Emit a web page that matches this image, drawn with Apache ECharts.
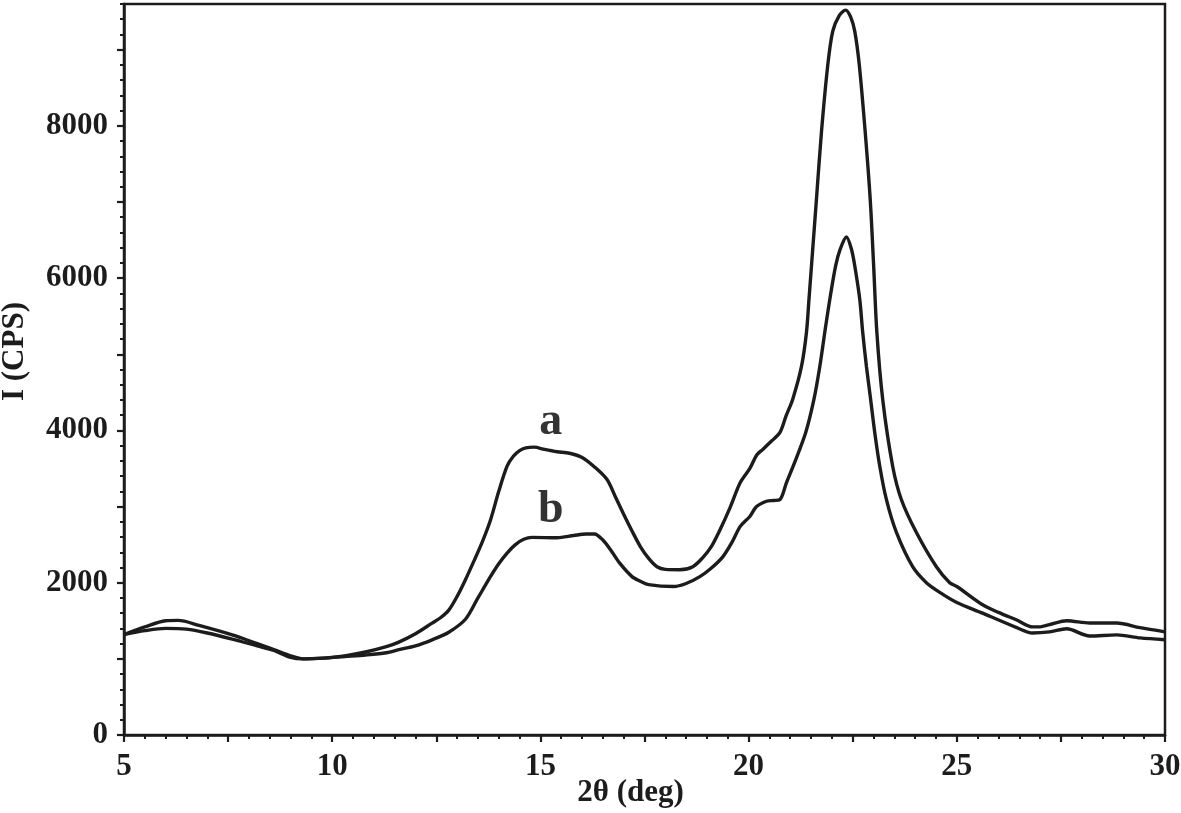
<!DOCTYPE html>
<html>
<head>
<meta charset="utf-8">
<script src="https://cdn.jsdelivr.net/npm/echarts@6/dist/echarts.min.js"></script>
<style>
html,body{margin:0;padding:0;background:#fff;}
#chart{width:1181px;height:813px;}
</style>
</head>
<body>
<div id="chart"></div>
<script>
// 2θ positions (deg) and intensities (CPS)
const xA = [5.0,5.5,6.0,6.3,6.8,7.6,8.2,8.6,9.0,9.3,9.8,10.3,10.8,11.3,11.6,12.0,12.4,12.6,12.8,13.0,13.2,13.4,13.6,13.8,14.0,14.2,14.35,14.5,14.65,14.85,15.1,15.4,15.7,16.0,16.3,16.6,16.8,17.0,17.2,17.4,17.6,17.8,18.0,18.35,18.66,18.9,19.1,19.3,19.55,19.8,20.03,20.2,20.34,20.55,20.75,20.9,21.06,21.27,21.39,21.45,21.51,21.57,21.63,21.75,21.9,22.02,22.18,22.33,22.45,22.55,22.66,22.8,22.92,23.0,23.08,23.22,23.46,23.67,24.03,24.51,24.83,25.0,25.62,26.0,26.44,26.82,27.0,27.23,27.64,28.19,28.84,29.4,30.0];
const yA = [1320,1420,1500,1505,1440,1315,1200,1120,1040,1000,1010,1040,1090,1160,1220,1330,1470,1540,1640,1820,2040,2280,2530,2820,3200,3530,3660,3735,3770,3780,3750,3720,3700,3645,3520,3355,3130,2900,2680,2475,2320,2210,2175,2170,2210,2330,2470,2680,2980,3315,3500,3680,3750,3860,3970,4190,4410,4840,5290,5720,6160,6600,7040,7920,8790,9240,9450,9520,9430,9240,8790,7920,7040,6200,5290,4410,3530,3090,2660,2210,2000,1950,1710,1610,1510,1420,1420,1450,1500,1470,1470,1410,1355];
const xB = [5.0,5.5,6.0,6.5,7.0,7.6,8.2,8.6,9.0,9.3,9.8,10.3,10.8,11.3,11.6,12.0,12.4,12.8,13.2,13.5,13.8,14.0,14.2,14.4,14.6,14.8,15.4,15.8,16.1,16.3,16.5,16.7,16.9,17.2,17.4,17.6,18.2,18.5,18.83,19.1,19.38,19.6,19.8,20.03,20.19,20.43,20.6,20.75,20.91,21.07,21.37,21.57,21.71,21.83,21.95,22.09,22.2,22.35,22.47,22.55,22.67,22.74,22.83,22.93,23.03,23.15,23.31,23.55,23.94,24.27,24.6,25.0,25.62,26.44,26.82,27.23,27.64,28.19,28.84,29.4,30.0];
const yB = [1320,1370,1400,1390,1340,1260,1170,1110,1020,1000,1010,1030,1050,1080,1120,1170,1250,1350,1520,1800,2080,2250,2390,2500,2570,2595,2590,2620,2640,2640,2560,2420,2260,2080,2020,1975,1950,1990,2080,2190,2340,2530,2740,2870,3000,3070,3080,3090,3315,3530,3970,4410,4840,5290,5720,6160,6380,6540,6380,6160,5720,5290,4840,4410,3970,3530,3090,2660,2210,2000,1870,1740,1600,1410,1340,1355,1395,1300,1315,1275,1250];
// curve annotations
const annotText = ['a','b'];
const annotX = [15.25,15.25];
const annotY = [4110,2950];
// axis ticks
const xLabelTicks = [5,10,15,20,25,30];
const xMidTicks = [5,7.5,10,12.5,15,17.5,20,22.5,25,27.5,30];
const yLabelTicks = [0,2000,4000,6000,8000];
const yMidTicks = [0,1000,2000,3000,4000,5000,6000,7000,8000,9000];

const font = '"Liberation Serif","Times New Roman",serif';
const ink = '#1c1c1c';
const pairs = (xs, ys) => xs.map((x,i)=>[x, ys[i]]);

const chart = echarts.init(document.getElementById('chart'), null, {renderer:'canvas'});
const labelStyle = {fontFamily:font, fontWeight:'bold', fontSize:31, color:ink};

chart.setOption({
  animation:false,
  backgroundColor:'#fff',
  grid:{left:124,right:16,top:4,bottom:78,containLabel:false,outerBoundsMode:'none',
        show:true,borderColor:ink,borderWidth:2.5,backgroundColor:'transparent'},
  xAxis:[
    {type:'value',min:5,max:30,interval:0.5,position:'bottom',
     axisLine:{show:true,onZero:false,lineStyle:{color:ink,width:2.5}},
     axisTick:{show:true,length:4,lineStyle:{color:ink,width:2}},
     splitLine:{show:false},
     axisLabel:Object.assign({margin:16,formatter:v=>xLabelTicks.includes(v)?String(v):''},labelStyle),
     name:'2θ (deg)',nameLocation:'middle',nameGap:42,nameMoveOverlap:false,
     nameTextStyle:Object.assign({padding:[0,28,0,0]},labelStyle)},
    {type:'value',min:5,max:30,interval:2.5,position:'bottom',
     axisLine:{show:false},
     axisTick:{show:true,length:7,lineStyle:{color:ink,width:2.2},customValues:xMidTicks},
     splitLine:{show:false},axisLabel:{show:false}}
  ],
  yAxis:[
    {type:'value',min:0,max:9600,interval:200,position:'left',
     axisLine:{show:true,onZero:false,lineStyle:{color:ink,width:2.5}},
     axisTick:{show:true,length:4,lineStyle:{color:ink,width:2}},
     splitLine:{show:false},
     axisLabel:Object.assign({margin:16,formatter:v=>yLabelTicks.includes(v)?String(v):''},labelStyle),
     name:'I (CPS)',nameLocation:'middle',nameGap:94,nameRotate:90,nameMoveOverlap:false,
     nameTextStyle:Object.assign({padding:[0,0,0,36]},labelStyle)},
    {type:'value',min:0,max:9600,interval:1000,position:'left',
     axisLine:{show:false},
     axisTick:{show:true,length:7,lineStyle:{color:ink,width:2.2},customValues:yMidTicks},
     splitLine:{show:false},axisLabel:{show:false}}
  ],
  series:[
    {name:'a',type:'line',xAxisIndex:0,yAxisIndex:0,data:pairs(xA,yA),showSymbol:false,smooth:0.3,
     lineStyle:{color:ink,width:3.4},z:3},
    {name:'b',type:'line',xAxisIndex:0,yAxisIndex:0,data:pairs(xB,yB),showSymbol:false,smooth:0.3,
     lineStyle:{color:ink,width:3.4},z:3},
    {name:'labels',type:'scatter',xAxisIndex:0,yAxisIndex:0,symbolSize:0,silent:true,
     data:annotText.map((t,i)=>({name:t,value:[annotX[i],annotY[i]]})),
     label:{show:true,position:'inside',formatter:p=>p.name,fontFamily:font,fontWeight:'bold',fontSize:46,color:'#000'}}
  ]
});
</script>
</body>
</html>
